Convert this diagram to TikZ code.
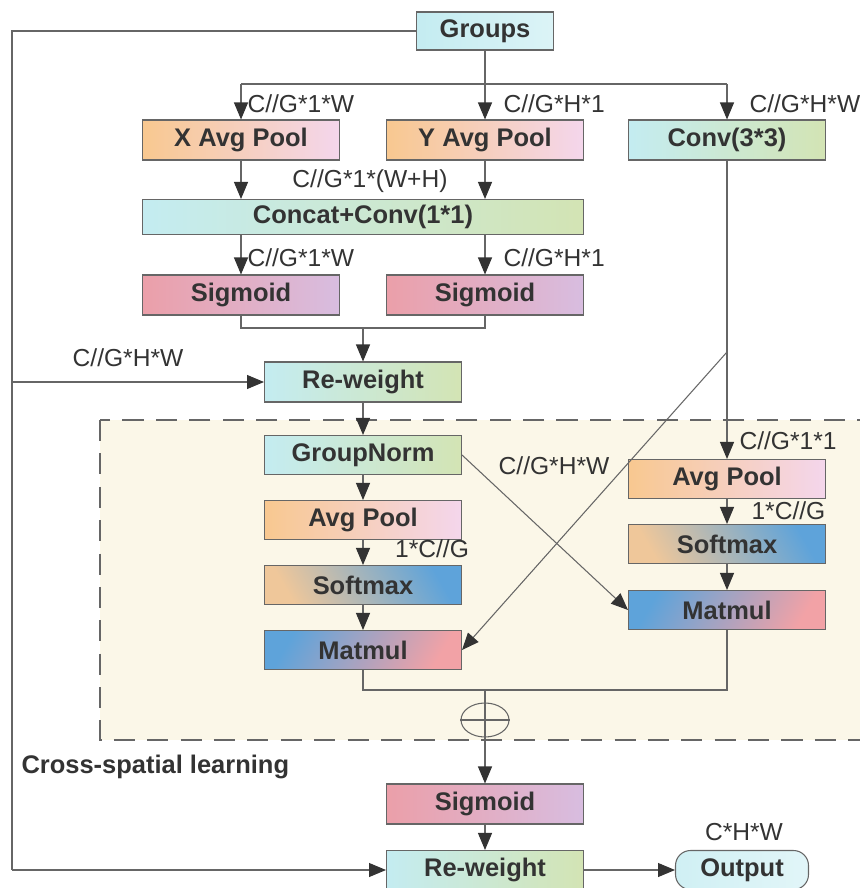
\documentclass[tikz,border=0pt]{standalone}
\usepackage{fontspec}
\setmainfont{Liberation Sans}
\usetikzlibrary{arrows.meta,shapes.geometric,calc}

\definecolor{txt}{HTML}{333333}
\definecolor{ln}{HTML}{666666}
\definecolor{cyanA}{HTML}{C4ECF1}
\definecolor{greenA}{HTML}{D3E4B4}
\definecolor{orangeA}{HTML}{F8C890}
\definecolor{pinkA}{HTML}{F4D6EC}
\definecolor{redA}{HTML}{EB9FA9}
\definecolor{lilacA}{HTML}{D8BDE0}
\definecolor{tanA}{HTML}{EFC79A}
\definecolor{blueA}{HTML}{5EA3DA}
\definecolor{roseA}{HTML}{F2A2A6}
\definecolor{creamA}{HTML}{FBF7E8}

\tikzset{
  box/.style={draw=ln, minimum width=3.94cm, minimum height=0.8cm, inner sep=0pt,
    text=txt, font=\fontsize{14.5}{17}\selectfont\bfseries},
  convbox/.style={box, left color=cyanA, right color=greenA},
  poolbox/.style={box, left color=orangeA, right color=pinkA},
  sigbox/.style={box, left color=redA, right color=lilacA},
  softbox/.style={box, left color=tanA, right color=blueA, shading angle=120},
  mulbox/.style={box, left color=blueA, right color=roseA, shading angle=60},
  lbl/.style={text=txt, font=\fontsize{14}{16}\selectfont, inner sep=0pt},
  arr/.style={draw=ln, -{Triangle[length=0.34cm, width=0.28cm, color=txt]}},
  con/.style={draw=ln}
}

\begin{document}
\begin{tikzpicture}[x=0.02cm, y=-0.02cm, line width=0.6pt]
\useasboundingbox (0,0) rectangle (859,888);

% cross-spatial area
\draw[ln, fill=creamA, dash pattern=on 12pt off 7pt] (100,420) rectangle (870,740);

% top part
\node[box, left color=cyanA, right color=cyanA!60!white, minimum width=2.74cm, minimum height=0.76cm] (groups) at (485,31) {Groups};
\node[poolbox] (xpool) at (241,140) {X Avg Pool};
\node[poolbox] (ypool) at (485,140) {Y Avg Pool};
\node[convbox] (conv) at (727,140) {Conv(3*3)};
\node[convbox, minimum width=8.82cm, minimum height=0.7cm] (concat) at (363,217) {Concat+Conv(1*1)};
\node[sigbox] (sig1) at (241,295) {Sigmoid};
\node[sigbox] (sig2) at (485,295) {Sigmoid};
\node[convbox] (rw1) at (363,382) {Re-weight};

% inside the dashed area
\node[convbox, minimum height=0.78cm] (gn) at (363,455) {GroupNorm};
\node[poolbox, minimum height=0.78cm] (pool1) at (363,520) {Avg Pool};
\node[softbox, minimum height=0.78cm] (soft1) at (363,585) {Softmax};
\node[mulbox, minimum height=0.78cm] (mm1) at (363,650) {Matmul};
\node[poolbox, minimum height=0.78cm] (pool2) at (727,479) {Avg Pool};
\node[softbox, minimum height=0.78cm] (soft2) at (727,544) {Softmax};
\node[mulbox, minimum height=0.78cm] (mm2) at (727,610) {Matmul};
\node[draw=ln, ellipse, minimum width=0.96cm, minimum height=0.68cm, inner sep=0pt] (plus) at (485,720) {};

% bottom part
\node[sigbox] (sig3) at (485,804) {Sigmoid};
\node[convbox, minimum height=0.78cm] (rw2) at (485,870) {Re-weight};
\node[box, rounded corners=0.3cm, left color=cyanA!80!white, right color=cyanA!50!white, minimum width=2.66cm, minimum height=0.78cm] (out) at (742,870) {Output};

% helper points
\coordinate (split) at (485,84);
\coordinate (left) at (12,31);
\coordinate (join1) at (363,328);
\coordinate (fork) at (727,352);
\coordinate (join2) at (485,690);

% connectors
\draw[con] (groups.south) -- (split);
\draw[con] (xpool.north |- split) -- (conv.north |- split);
\draw[arr] (xpool.north |- split) -- (xpool.north);
\draw[arr] (split) -- (ypool.north);
\draw[arr] (conv.north |- split) -- (conv.north);
\draw[arr] (xpool) -- (xpool |- concat.north);
\draw[arr] (ypool) -- (ypool |- concat.north);
\draw[arr] (sig1 |- concat.south) -- (sig1.north);
\draw[arr] (sig2 |- concat.south) -- (sig2.north);
\draw[con] (sig1.south) |- (join1) -| (sig2.south);
\draw[arr] (join1) -- (rw1.north);

\draw[con] (groups.west) -- (left) -- (left |- rw2);
\draw[arr] (left |- rw2) -- (rw2.west);
\draw[arr] (left |- rw1) -- (rw1.west);

\draw[arr] (conv.south) -- (pool2.north);
\draw[arr] (fork) -- (mm1.east);
\draw[arr] (rw1) -- (gn);
\draw[arr] (gn) -- (pool1);
\draw[arr] (pool1) -- (soft1);
\draw[arr] (soft1) -- (mm1);
\draw[arr] (gn.east) -- (mm2.west);
\draw[arr] (pool2) -- (soft2);
\draw[arr] (soft2) -- (mm2);
\draw[con] (mm1.south) |- (join2) -| (mm2.south);
\draw[con] (join2) -- (plus.north);
\draw[con] (plus.west) -- (plus.east);
\draw[arr] (plus.north) -- (sig3.north);
\draw[arr] (sig3) -- (rw2);
\draw[arr] (rw2) -- (out);

% labels
\node[lbl, anchor=west] (l1) at (247,104) {C//G*1*W};
\node[lbl, anchor=west] (l2) at (503,104) {C//G*H*1};
\node[lbl, anchor=west] (l3) at (749,104) {C//G*H*W};
\node[lbl] (l4) at (370,181) {C//G*1*(W+H)};
\node[lbl, anchor=west] (l5) at (247,258) {C//G*1*W};
\node[lbl, anchor=west] (l6) at (503,258) {C//G*H*1};
\node[lbl] (l7) at (128,358) {C//G*H*W};
\node[lbl, anchor=west] (l8) at (739,441) {C//G*1*1};
\node[lbl] (l9) at (554,466) {C//G*H*W};
\node[lbl] (l10) at (432,549) {1*C//G};
\node[lbl, anchor=west] (l11) at (751,511) {1*C//G};
\node[lbl] (l12) at (744,832) {C*H*W};
\node[text=txt, font=\fontsize{14.5}{17}\selectfont\bfseries, anchor=west, inner sep=0pt] (title) at (21,767) {Cross-spatial learning};

\end{tikzpicture}
\end{document}
